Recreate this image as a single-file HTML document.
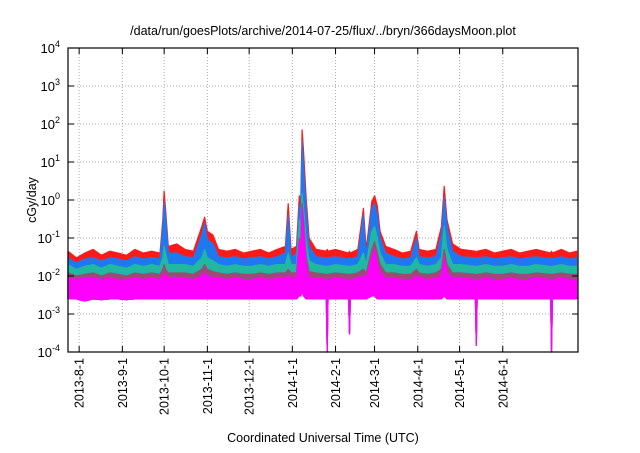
<!DOCTYPE html>
<html><head><meta charset="utf-8"><style>
body{margin:0;background:#fff}
svg text{font-family:"Liberation Sans",sans-serif;fill:#000}
</style></head><body>
<svg id="chart" width="640" height="448" xmlns="http://www.w3.org/2000/svg">
<text x="323" y="35" font-size="12.5" text-anchor="middle">/data/run/goesPlots/archive/2014-07-25/flux/../bryn/366daysMoon.plot</text>
<text transform="translate(36,200) rotate(-90)" font-size="12.5" text-anchor="middle">cGy/day</text>
<text x="323" y="442" font-size="12.5" text-anchor="middle">Coordinated Universal Time (UTC)</text>
<g id="grid"></g>
<g id="series"></g>
<g id="axes"></g>
</svg>
<script>
const days   =[0,6,12,18,24,30,36,42,48,54,60,66,68,69,70,72,78,84,90,96,98,100,104,108,114,120,126,132,138,144,150,156,158,160,164,166,167,168,169,171,173,178,185.4,186,186.6,192,201.4,202,202.6,208,212,214,218,220,222,224,228,234,240,246,250,252,258,264,268,270,272,276,282,292.4,293,293.6,300,306,312,318,324,330,336,346.4,347,347.6,354,360,365];
const red    =[.045,.03,.04,.05,.035,.045,.04,.035,.05,.04,.045,.04,.3,1.7,.6,.06,.07,.05,.045,.2,.35,.15,.12,.05,.045,.05,.04,.045,.05,.04,.05,.06,.8,.05,.06,1.3,.8,70,20,1,.1,.05,.045,.05,.045,.05,.04,.045,.04,.05,.6,.05,.9,1.3,.7,.15,.06,.05,.04,.045,.15,.05,.045,.05,.2,2.3,.3,.07,.05,.045,.04,.045,.05,.04,.045,.05,.04,.045,.05,.04,.045,.04,.05,.04,.045];
const blue   =[.03,.022,.028,.03,.025,.03,.028,.025,.032,.028,.03,.028,.2,.9,.4,.04,.04,.032,.03,.12,.25,.09,.07,.032,.03,.032,.028,.03,.032,.028,.032,.04,.4,.03,.04,.7,.5,35,8,.5,.06,.032,.03,.03,.03,.032,.028,.03,.028,.032,.4,.032,.6,.8,.4,.1,.04,.032,.028,.03,.1,.032,.03,.032,.12,1.2,.2,.045,.032,.03,.028,.03,.032,.028,.03,.032,.028,.03,.032,.028,.03,.028,.032,.028,.03];
const green  =[.02,.015,.018,.02,.016,.02,.018,.016,.02,.018,.02,.018,.03,.06,.04,.02,.02,.02,.018,.03,.05,.03,.025,.02,.018,.02,.018,.018,.02,.018,.02,.02,.04,.02,.02,.3,.15,1.5,.6,.08,.025,.02,.018,.018,.018,.02,.018,.018,.018,.02,.04,.02,.15,.2,.1,.04,.02,.02,.018,.018,.03,.02,.018,.02,.03,.2,.05,.02,.02,.018,.018,.018,.02,.018,.018,.02,.018,.018,.02,.018,.018,.018,.02,.018,.018];
const brown  =[.012,.01,.011,.012,.01,.012,.011,.01,.012,.011,.012,.011,.015,.02,.015,.012,.012,.012,.011,.015,.02,.015,.013,.012,.011,.012,.011,.011,.012,.011,.012,.012,.015,.012,.012,.1,.06,.8,.3,.03,.013,.012,.011,.011,.011,.012,.011,.011,.011,.012,.015,.012,.05,.08,.04,.02,.012,.012,.011,.011,.015,.012,.011,.012,.015,.05,.02,.012,.012,.011,.011,.011,.012,.011,.011,.012,.011,.011,.012,.011,.011,.011,.012,.011,.011];
const magTop =[.009,.008,.009,.009,.008,.009,.008,.008,.009,.008,.009,.008,.01,.012,.01,.009,.009,.009,.008,.01,.012,.01,.009,.009,.008,.009,.008,.008,.009,.008,.009,.009,.01,.009,.009,.08,.05,.6,.2,.02,.009,.009,.008,.008,.008,.009,.008,.008,.008,.009,.01,.009,.03,.05,.02,.012,.009,.009,.008,.008,.01,.009,.008,.009,.01,.03,.012,.009,.009,.008,.008,.008,.009,.008,.008,.009,.008,.008,.009,.008,.008,.008,.009,.008,.008];
const magLow =[.0025,.0025,.0022,.0025,.0024,.0025,.0025,.0024,.0025,.0025,.0025,.0025,.0025,.0025,.0025,.0025,.0025,.0025,.0025,.0025,.0025,.0025,.0025,.0025,.0025,.0025,.0025,.0025,.0025,.0025,.0025,.0025,.0025,.0025,.0025,.003,.003,.004,.003,.0025,.0025,.0025,.0025,.0001,.0025,.0025,.0025,.0003,.0025,.0025,.0025,.0025,.003,.003,.0025,.0025,.0025,.0025,.0025,.0025,.0025,.0025,.0025,.0025,.0025,.003,.0025,.0025,.0025,.0025,.00015,.0025,.0025,.0025,.0025,.0025,.0025,.0025,.0025,.0025,.0001,.0025,.0025,.0025,.0025];
const tickDays=[8,39,69,100,130,161,192,220,251,281,312];
const tickLabels=["2013-8-1","2013-9-1","2013-10-1","2013-11-1","2013-12-1","2014-1-1","2014-2-1","2014-3-1","2014-4-1","2014-5-1","2014-6-1"];
const yExps=[-4,-3,-2,-1,0,1,2,3,4];

const L=68,R=578,T=48,B=352,NS="http://www.w3.org/2000/svg";
const x=d=>L+d*(R-L)/366;
const y=v=>B-(Math.log10(v)+4)*(B-T)/8;
const mk=(p,t,a)=>{const e=document.createElementNS(NS,t);for(const k in a)e.setAttribute(k,a[k]);p.appendChild(e);return e;};
const grid=document.getElementById('grid'),ser=document.getElementById('series'),ax=document.getElementById('axes');

yExps.forEach(e=>{const yy=y(Math.pow(10,e));
 if(e>-4&&e<4){const g=mk(grid,'line',{x1:L,x2:R,y1:yy,y2:yy,stroke:'#aaa','stroke-dasharray':'1,2','stroke-width':1});
 }
 const t=mk(ax,'line',{x1:L,x2:L+6,y1:yy,y2:yy,stroke:'#000'});
 const t2=mk(ax,'line',{x1:R,x2:R-6,y1:yy,y2:yy,stroke:'#000'});
 const lb=mk(ax,'text',{x:60,y:yy+5,'font-size':13,'text-anchor':'end'});
 
 lb.innerHTML='10<tspan dy="-6" font-size="9">'+e+'</tspan>';
});
tickDays.forEach((d,i)=>{const xx=x(d);
 const g=mk(grid,'line',{x1:xx,x2:xx,y1:T,y2:B,stroke:'#aaa','stroke-dasharray':'1,2','stroke-width':1});
 
 const t=mk(ax,'line',{x1:xx,x2:xx,y1:B,y2:B-6,stroke:'#000'});
 const t2=mk(ax,'line',{x1:xx,x2:xx,y1:T,y2:T+6,stroke:'#000'});
 const lb=mk(ax,'text',{transform:`translate(${xx+4.5},358) rotate(-90)`,'font-size':12.5,'text-anchor':'end'});
 
 lb.textContent=tickLabels[i];
});
function area(top,col,name){
 let p='M'+days.map((d,i)=>x(d).toFixed(1)+','+y(top[i]).toFixed(1)).join('L');
 for(let i=days.length-1;i>=0;i--)p+='L'+x(days[i]).toFixed(1)+','+y(magLow[i]).toFixed(1);
 const e=mk(ser,'path',{d:p+'Z',fill:col,stroke:col,'stroke-width':1.2,'stroke-linejoin':'round'});
 
}
area(red,'#ff1a1a','series-red');
area(blue,'#1e78f0','series-blue');
area(green,'#20b8a0','series-green');
area(brown,'#a04878','series-brown');
area(magTop,'#ff00ff','series-magenta');
const fr=mk(ax,'rect',{x:L,y:T,width:R-L,height:B-T,fill:'none',stroke:'#000','stroke-width':1.2});

</script>
</body></html>
